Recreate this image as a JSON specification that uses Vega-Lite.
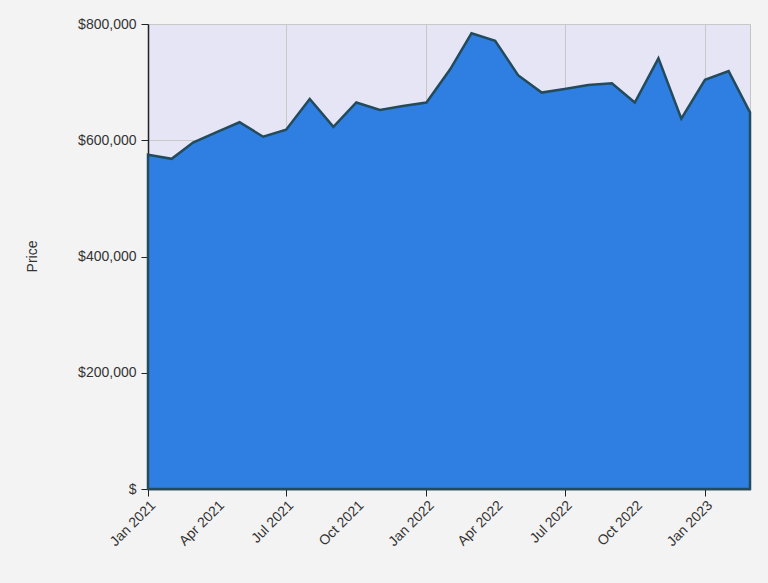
{
  "$schema": "https://vega.github.io/schema/vega-lite/v6.json",
  "autosize": "none",
  "width": 602,
  "height": 465,
  "padding": {"left": 148, "top": 24, "right": 18, "bottom": 94},
  "background": "#f3f3f3",
  "view": {"fill": "#e5e5f6", "stroke": "#c4c4c4"},
  "config": {
    "font": "Liberation Sans",
    "axis": {
      "labelFont": "Liberation Sans",
      "labelFontSize": 14,
      "labelColor": "#333333",
      "titleFont": "Liberation Sans",
      "titleFontSize": 14,
      "titleFontWeight": "normal",
      "titleColor": "#333333",
      "domainColor": "#222222",
      "domainWidth": 1.5,
      "tickColor": "#222222",
      "tickSize": 7,
      "gridColor": "#c8c8c8",
      "gridWidth": 1
    }
  },
  "data": {
    "values": [
      {"Month": "2021-01-01T00:00", "Price": 575000},
      {"Month": "2021-02-01T00:00", "Price": 568000},
      {"Month": "2021-03-01T00:00", "Price": 596000},
      {"Month": "2021-04-01T00:00", "Price": 614000},
      {"Month": "2021-05-01T00:00", "Price": 631000},
      {"Month": "2021-06-01T00:00", "Price": 606000},
      {"Month": "2021-07-01T00:00", "Price": 618000},
      {"Month": "2021-08-01T00:00", "Price": 671000},
      {"Month": "2021-09-01T00:00", "Price": 623000},
      {"Month": "2021-10-01T00:00", "Price": 665000},
      {"Month": "2021-11-01T00:00", "Price": 652000},
      {"Month": "2021-12-01T00:00", "Price": 659000},
      {"Month": "2022-01-01T00:00", "Price": 665000},
      {"Month": "2022-02-01T00:00", "Price": 722000},
      {"Month": "2022-03-01T00:00", "Price": 784000},
      {"Month": "2022-04-01T00:00", "Price": 771000},
      {"Month": "2022-05-01T00:00", "Price": 712000},
      {"Month": "2022-06-01T00:00", "Price": 682000},
      {"Month": "2022-07-01T00:00", "Price": 688000},
      {"Month": "2022-08-01T00:00", "Price": 695000},
      {"Month": "2022-09-01T00:00", "Price": 698000},
      {"Month": "2022-10-01T00:00", "Price": 665000},
      {"Month": "2022-11-01T00:00", "Price": 741000},
      {"Month": "2022-12-01T00:00", "Price": 637000},
      {"Month": "2023-01-01T00:00", "Price": 704000},
      {"Month": "2023-02-01T00:00", "Price": 719000},
      {"Month": "2023-03-01T00:00", "Price": 648000}
    ]
  },
  "mark": {
    "type": "area",
    "color": "#2f7fe3",
    "stroke": "#234b5c",
    "strokeWidth": 2.5,
    "strokeJoin": "miter",
    "opacity": 1
  },
  "encoding": {
    "x": {
      "field": "Month",
      "type": "temporal",
      "scale": {
        "domain": [
          {"year": 2021, "month": 1, "date": 1},
          {"year": 2023, "month": 3, "date": 1}
        ],
        "nice": false
      },
      "axis": {
        "title": null,
        "values": [
          {"year": 2021, "month": 1, "date": 1},
          {"year": 2021, "month": 4, "date": 1},
          {"year": 2021, "month": 7, "date": 1},
          {"year": 2021, "month": 10, "date": 1},
          {"year": 2022, "month": 1, "date": 1},
          {"year": 2022, "month": 4, "date": 1},
          {"year": 2022, "month": 7, "date": 1},
          {"year": 2022, "month": 10, "date": 1},
          {"year": 2023, "month": 1, "date": 1}
        ],
        "format": "%b %Y",
        "labelAngle": -45,
        "labelAlign": "right",
        "labelBaseline": "top",
        "labelPadding": 2,
        "tickOpacity": {"condition": {"test": "month(datum.value) % 6 == 0", "value": 1}, "value": 0},
        "gridOpacity": {"condition": {"test": "month(datum.value) % 6 == 0", "value": 1}, "value": 0}
      }
    },
    "y": {
      "field": "Price",
      "type": "quantitative",
      "scale": {"domain": [0, 800000], "nice": false},
      "axis": {
        "title": "Price",
        "values": [0, 200000, 400000, 600000, 800000],
        "labelExpr": "datum.value == 0 ? '$' : '$' + format(datum.value, ',')",
        "labelPadding": 5,
        "titleAngle": -90,
        "titleX": -116,
        "titleY": 232,
        "titleAlign": "center",
        "titleBaseline": "middle"
      }
    }
  }
}
